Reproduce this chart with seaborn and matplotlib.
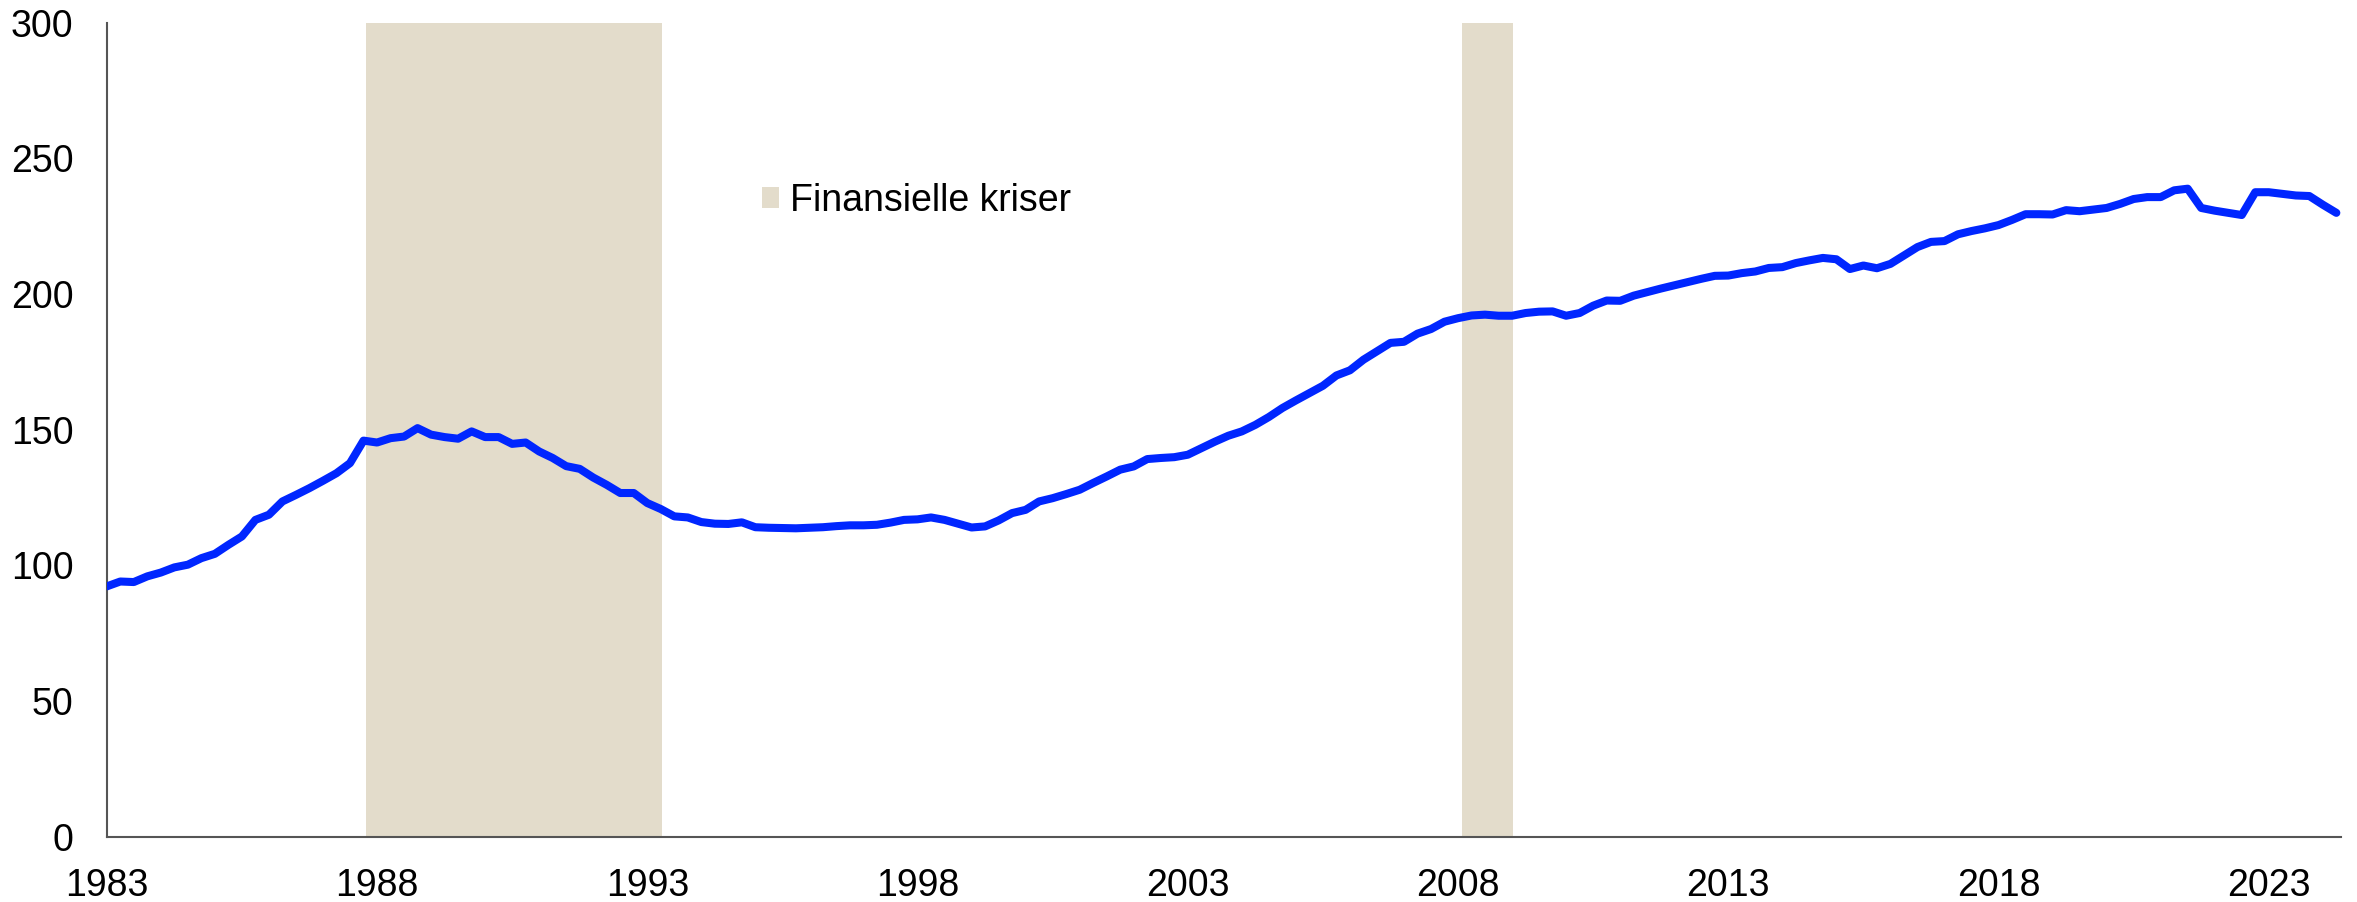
# gjeld i husholdningene, kvartalsvis, med finansielle kriser skyggelagt
import pandas as pd
import seaborn as sns
import matplotlib.pyplot as plt

sns.set_theme(style="white")
plt.rcParams['font.family'] = ['Liberation Sans', 'DejaVu Sans']
plt.rcParams['text.color'] = 'black'

quarters = pd.period_range('1983Q1', '2024Q2', freq='Q')

values = [
    92.3, 94.1, 93.9, 96.0,
    97.4, 99.3, 100.3, 102.7,
    104.3, 107.6, 110.7, 116.8,
    118.7, 123.6, 126.0, 128.5,
    131.2, 134.0, 137.7, 146.0,
    145.3, 146.9, 147.5, 150.6,
    148.2, 147.3, 146.7, 149.4,
    147.3, 147.3, 144.8, 145.3,
    142.0, 139.6, 136.6, 135.6,
    132.4, 129.7, 126.7, 126.7,
    123.0, 120.8, 118.1, 117.7,
    116.0, 115.4, 115.3, 115.9,
    114.1, 113.9, 113.8, 113.7,
    113.9, 114.1, 114.5, 114.8,
    114.8, 115.0, 115.8, 116.8,
    117.0, 117.7, 116.8, 115.4,
    114.0, 114.4, 116.6, 119.3,
    120.5, 123.6, 124.8, 126.3,
    127.9, 130.4, 132.8, 135.3,
    136.5, 139.2, 139.6, 139.9,
    140.8, 143.2, 145.6, 147.8,
    149.4, 151.8, 154.7, 158.0,
    160.8, 163.5, 166.2, 170.0,
    171.9, 175.8, 178.9, 182.0,
    182.4, 185.4, 187.1, 189.8,
    191.1, 192.1, 192.4, 192.0,
    192.0, 193.0, 193.5, 193.6,
    192.0, 193.0, 195.7, 197.6,
    197.5, 199.4, 200.7, 202.0,
    203.2, 204.4, 205.6, 206.7,
    206.8, 207.7, 208.3, 209.6,
    209.9, 211.4, 212.4, 213.3,
    212.8, 209.2, 210.5, 209.5,
    211.1, 214.2, 217.3, 219.2,
    219.5, 222.0, 223.2, 224.2,
    225.4, 227.3, 229.4, 229.4,
    229.3, 230.9, 230.5, 231.1,
    231.7, 233.2, 235.0, 235.7,
    235.7, 238.2, 238.8, 231.7,
    230.7, 229.9, 229.1, 237.5,
    237.5, 236.9, 236.3, 236.1,
    232.9, 229.9,
]

# krisperioder (start, slutt) i desimalår
crises = [(1987.8, 1993.28), (2008.07, 2009.02)]
crisis_label = "Finansielle kriser"

year_ticks = [1983, 1988, 1993, 1998, 2003, 2008, 2013, 2018, 2023]
y_ticks = [0, 50, 100, 150, 200, 250, 300]

df = pd.DataFrame({
    "t": [q.year + (q.quarter - 1) / 4 for q in quarters],
    "verdi": values,
})

fig = plt.figure(figsize=(23.57, 9.02), dpi=100)
ax = fig.add_axes([0.0453, 0.0721, 0.948, 0.9029])

for i, (a, b) in enumerate(crises):
    ax.axvspan(a, b, color="#E3DCCB", lw=0, zorder=0,
               label=crisis_label if i == 0 else None)

sns.lineplot(data=df, x="t", y="verdi", color="#0026FF", linewidth=5.8,
             ax=ax, zorder=3, legend=False)

ax.set_xlim(1983, 2024.34)
ax.set_ylim(0, 300)
ax.set_xticks(year_ticks)
ax.set_xticklabels([str(y) for y in year_ticks])
ax.set_yticks(y_ticks)
ax.set_xlabel("")
ax.set_ylabel("")

for side in ["top", "right"]:
    ax.spines[side].set_visible(False)
for side in ["left", "bottom"]:
    ax.spines[side].set_color("#555555")
    ax.spines[side].set_linewidth(1.5)

ax.tick_params(axis="both", direction="in", length=8, width=1.2,
               color="#666666", labelsize=27, labelcolor="black")
ax.tick_params(axis="x", pad=22)
ax.tick_params(axis="y", pad=24)

leg = ax.legend(loc="center left", bbox_to_anchor=(0.2932, 0.781), frameon=False,
                fontsize=27, handlelength=0.45, handleheight=0.45,
                handletextpad=0.3, borderpad=0, borderaxespad=0)
for txt in leg.get_texts():
    txt.set_color("black")

fig.savefig("out.png", dpi=100)
